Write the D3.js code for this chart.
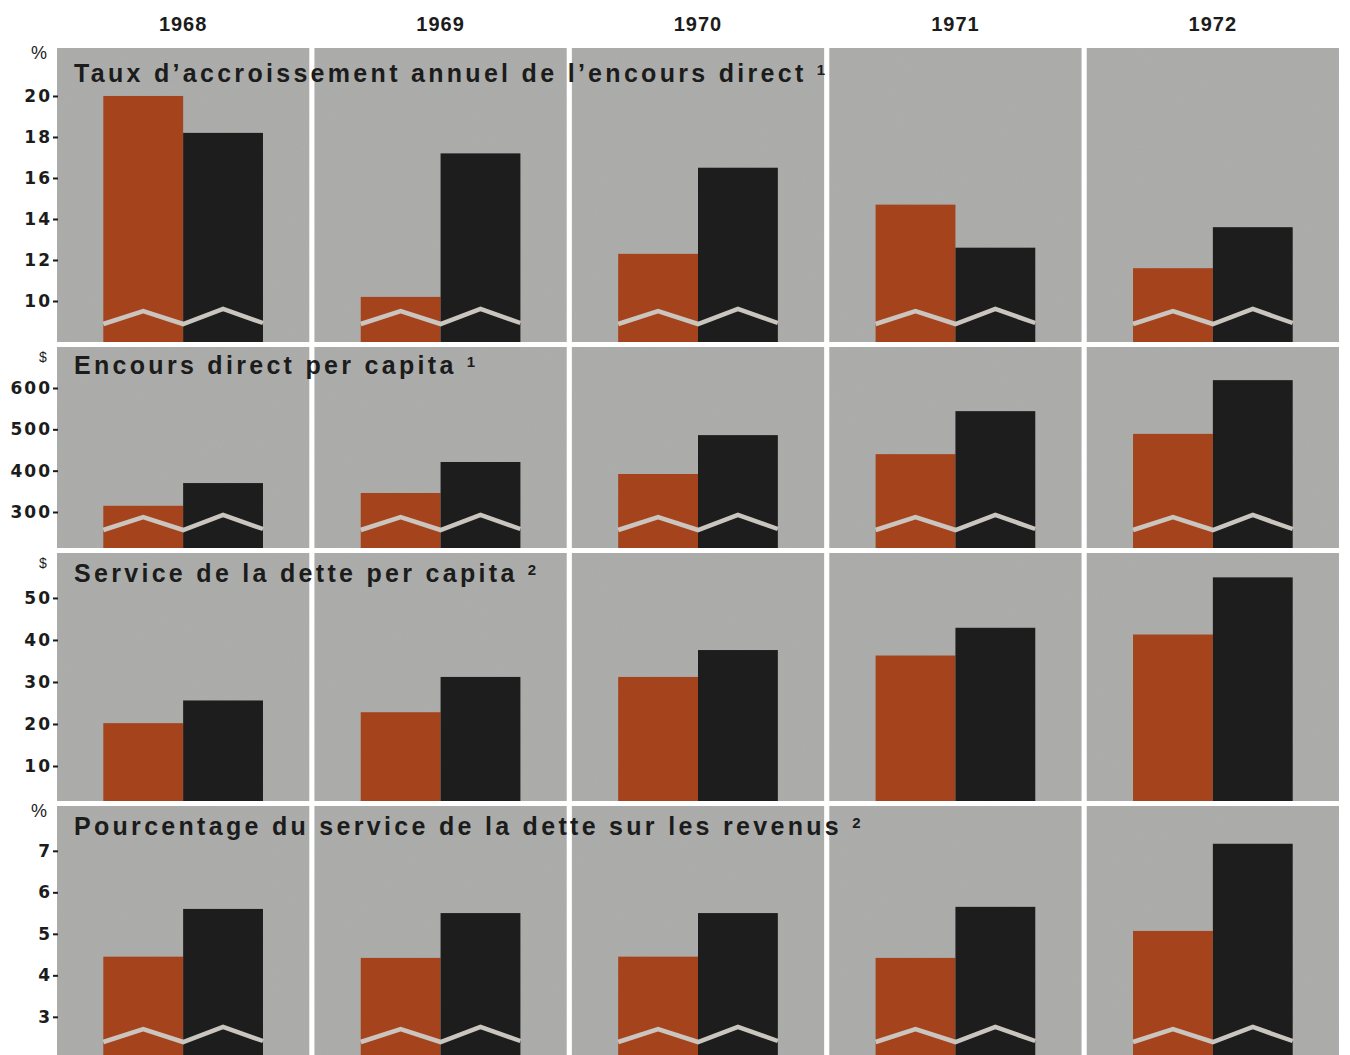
<html lang="fr">
<head>
<meta charset="utf-8">
<title>Endettement 1968-1972</title>
<style>
  body { margin: 0; background: #ffffff; }
  svg { display: block; background: #ffffff; }
  text { font-family: "Liberation Sans", Arial, sans-serif; font-weight: bold; fill: #1b1c1b; }
  .panel { fill: #aaaba9; }
  .bar-a { fill: #a5441c; }
  .bar-b { fill: #1c1d1c; }
  .brk { fill: none; stroke: #cbc5bf; stroke-width: 4.5; stroke-linejoin: miter; }
  .tick line { stroke: #1b1c1b; stroke-width: 2; }
</style>
</head>
<body>
<div id="chart"></div>
<script src="https://d3js.org/d3.v7.min.js"></script>
<script>
// ---- data ----
var years = ["1968", "1969", "1970", "1971", "1972"];

var tauxOrange = [20.0, 10.2, 12.3, 14.7, 11.6];
var tauxNoir   = [18.2, 17.2, 16.5, 12.6, 13.6];
var tauxTicks  = [10, 12, 14, 16, 18, 20];

var encoursOrange = [315, 346, 392, 440, 489];
var encoursNoir   = [370, 421, 486, 544, 619];
var encoursTicks  = [300, 400, 500, 600];

var serviceOrange = [20.2, 22.8, 31.2, 36.3, 41.3];
var serviceNoir   = [25.6, 31.2, 37.6, 42.9, 54.9];
var serviceTicks  = [10, 20, 30, 40, 50];

var pctOrange = [4.45, 4.42, 4.45, 4.42, 5.07];
var pctNoir   = [5.6, 5.5, 5.5, 5.65, 7.17];
var pctTicks  = [3, 4, 5, 6, 7];

var W = 1350, H = 1055;

// each row: its own y scale (axis broken at the bottom for 3 of them)
var rows = [
  {title: "Taux d\u2019accroissement annuel de l\u2019encours direct", note: "1", unit: "%",
   top: 48, bottom: 342, domain: [8, 22.34], ticks: tauxTicks, a: tauxOrange, b: tauxNoir, brk: true, titleY: 82},
  {title: "Encours direct per capita", note: "1", unit: "$",
   top: 347, bottom: 548, domain: [212.9, 699.2], ticks: encoursTicks, a: encoursOrange, b: encoursNoir, brk: true, titleY: 374},
  {title: "Service de la dette per capita", note: "2", unit: "$",
   top: 553, bottom: 801, domain: [1.67, 60.7], ticks: serviceTicks, a: serviceOrange, b: serviceNoir, brk: false, titleY: 582},
  {title: "Pourcentage du service de la dette sur les revenus", note: "2", unit: "%",
   top: 806, bottom: 1060, domain: [1.96, 8.08], ticks: pctTicks, a: pctOrange, b: pctNoir, brk: true, titleY: 835}
];

var svg = d3.select("#chart").append("svg")
    .attr("width", W)
    .attr("height", H);

// light paper grain on the grey panels
var grain = svg.append("defs").append("filter")
    .attr("id", "grain")
    .attr("x", 0).attr("y", 0).attr("width", 1).attr("height", 1);
grain.append("feTurbulence")
    .attr("type", "fractalNoise")
    .attr("baseFrequency", 0.9)
    .attr("numOctaves", 2)
    .attr("seed", 3)
    .attr("result", "noise");
grain.append("feColorMatrix")
    .attr("in", "noise")
    .attr("type", "matrix")
    .attr("values", "0 0 0 0 0.5  0 0 0 0 0.5  0 0 0 0 0.5  0 0 0 0.22 -0.05")
    .attr("result", "tint");
grain.append("feComposite")
    .attr("in", "tint")
    .attr("in2", "SourceGraphic")
    .attr("operator", "atop");

var x = d3.scaleBand()
    .domain(years)
    .range([57, 1339])
    .paddingInner(0.02);

var inner = d3.scaleBand()
    .domain(["a", "b"])
    .range([0, x.bandwidth()])
    .paddingOuter(0.58);

// year headers
svg.selectAll(".year")
    .data(years)
    .enter().append("text")
    .attr("class", "year")
    .attr("x", function(d) { return x(d) + x.bandwidth() / 2; })
    .attr("y", 31)
    .attr("text-anchor", "middle")
    .style("font-size", "20px")
    .style("letter-spacing", "1px")
    .text(function(d) { return d; });

// zigzag break mark offsets (px above panel bottom) at 0, 1/4, 1/2, 3/4, 1 of the bar pair
var brkOffsets = [18, 31, 18, 33, 19];

rows.forEach(function(r) {
    var y = d3.scaleLinear().domain(r.domain).range([r.bottom, r.top]);
    var g = svg.append("g");

    g.selectAll(".panel")
        .data(years)
        .enter().append("rect")
        .attr("class", "panel")
        .attr("x", function(d) { return x(d); })
        .attr("y", r.top)
        .attr("width", x.bandwidth())
        .attr("height", r.bottom - r.top)
        .attr("filter", "url(#grain)");

    var pairs = years.map(function(yr, i) { return {year: yr, a: r.a[i], b: r.b[i]}; });

    ["a", "b"].forEach(function(k) {
        g.selectAll(".bar-" + k)
            .data(pairs)
            .enter().append("rect")
            .attr("class", "bar-" + k)
            .attr("x", function(d) { return x(d.year) + inner(k); })
            .attr("y", function(d) { return y(d[k]); })
            .attr("width", inner.bandwidth())
            .attr("height", function(d) { return r.bottom - y(d[k]); });
    });

    if (r.brk) {
        g.selectAll(".brk")
            .data(pairs)
            .enter().append("polyline")
            .attr("class", "brk")
            .attr("points", function(d) {
                var x0 = x(d.year) + inner("a"),
                    w = inner.bandwidth() * 2;
                return brkOffsets.map(function(o, j) {
                    return (x0 + w * j / 4) + "," + (r.bottom - o);
                }).join(" ");
            });
    }

    // axis on the left
    var ax = svg.append("g")
        .attr("transform", "translate(58,0)")
        .call(d3.axisLeft(y).tickValues(r.ticks).tickSize(5).tickPadding(1).tickFormat(d3.format("d")));
    ax.select(".domain").remove();
    ax.selectAll("text")
        .style("font-size", "17px")
        .style("letter-spacing", "2px")
        .style("font-family", "\"DejaVu Sans\", sans-serif")
        .style("font-weight", "bold")
        .attr("fill", "#1b1c1b");

    svg.append("text")
        .attr("x", r.unit == "%" ? 39 : 43)
        .attr("y", r.top + (r.unit == "%" ? 11 : 15))
        .attr("text-anchor", "middle")
        .style("font-size", r.unit == "%" ? "18px" : "14px")
        .style("font-weight", "normal")
        .text(r.unit);

    // title, drawn over the panels
    var t = svg.append("text")
        .attr("x", 74)
        .attr("y", r.titleY)
        .style("font-size", "25px")
        .style("letter-spacing", "3.3px")
        .text(r.title + " ");
    t.append("tspan")
        .attr("dy", -7)
        .style("font-size", "15px")
        .style("letter-spacing", "0px")
        .text(r.note);
});
</script>
</body>
</html>
